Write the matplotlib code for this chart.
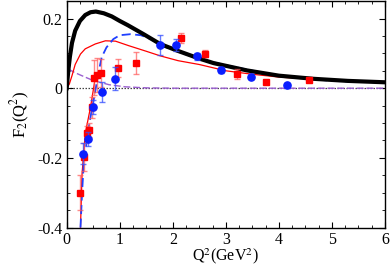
import matplotlib
matplotlib.use("Agg")
import matplotlib.pyplot as plt
from matplotlib.ticker import MultipleLocator

plt.rcParams['font.family'] = ['Liberation Serif', 'DejaVu Serif']
plt.rcParams['mathtext.fontset'] = 'stix'

# data points
blue_x = [0.30, 0.40, 0.50, 0.66, 0.91, 1.75, 2.06, 2.45, 2.91, 3.48, 4.16]
blue_y = [-0.188, -0.147, -0.055, -0.011, 0.027, 0.124, 0.124, 0.091, 0.053, 0.033, 0.008]
blue_err = [0.03, 0.02, 0.02, 0.028, 0.033, 0.028, 0.018, 0.01, 0.008, 0.008, 0.008]

red_x = [0.26, 0.33, 0.38, 0.43, 0.48, 0.52, 0.58, 0.65, 0.96, 1.31, 2.16, 2.61, 3.21, 3.75, 4.56]
red_y = [-0.30, -0.197, -0.129, -0.119, -0.055, 0.030, 0.038, 0.044, 0.058, 0.072, 0.144, 0.099, 0.041, 0.018, 0.024]
red_err = [0.05, 0.04, 0.02, 0.02, 0.03, 0.05, 0.05, 0.04, 0.025, 0.031, 0.015, 0.01, 0.015, 0.005, 0.005]

# model curves
black_x = [0.0, 0.03, 0.06, 0.10, 0.16, 0.25, 0.35, 0.45, 0.55, 0.70, 0.85, 1.0, 1.15, 1.45,
           1.76, 2.08, 2.5, 2.77, 3.4, 4.0, 4.65, 5.3, 6.0]
black_y = [0.0, 0.05, 0.09, 0.13, 0.165, 0.193, 0.21, 0.218, 0.22, 0.215, 0.206, 0.193, 0.181, 0.155,
           0.127, 0.108, 0.085, 0.072, 0.051, 0.036, 0.027, 0.021, 0.017]

red_mx = [0.0, 0.05, 0.10, 0.16, 0.26, 0.35, 0.54, 0.73, 0.92, 1.17, 1.5, 1.76,
          2.1, 2.5, 3.0, 3.5, 4.0, 5.0, 6.0]
red_my = [0.0, 0.012, 0.036, 0.068, 0.098, 0.113, 0.127, 0.136, 0.135, 0.122, 0.106, 0.093,
          0.079, 0.068, 0.050, 0.040, 0.032, 0.022, 0.015]

# fits to the data
red_fx = [0.26, 0.29, 0.35, 0.45, 0.54, 0.62]
red_fy = [-0.40, -0.245, -0.13, -0.054, 0.031, 0.05]

blue_cx = [0.26, 0.29, 0.32, 0.38, 0.43, 0.47, 0.53, 0.60, 0.66, 0.75, 0.88, 1.0, 1.2, 1.4,
           1.6, 1.8, 2.0, 2.5, 3.0, 4.0, 5.0, 6.0]
blue_cy = [-0.40, -0.30, -0.22, -0.15, -0.10, -0.064, -0.016, 0.045, 0.089, 0.117, 0.141, 0.152, 0.155, 0.152,
           0.14, 0.122, 0.110, 0.084, 0.066, 0.035, 0.021, 0.016]

purple_x = [0.03, 0.15, 0.3, 0.5, 0.8, 1.1, 1.5, 2.0, 3.0, 4.0, 5.0, 6.0]
purple_y = [0.055, 0.045, 0.035, 0.022, 0.010, 0.004, 0.001, 0.0, 0.0, 0.0, 0.0, 0.0]

fig = plt.figure(figsize=(3.9, 2.7), dpi=100)
ax = fig.add_axes([0.171, 0.157, 0.816, 0.839])

ax.axhline(0, color='#444444', lw=0.9, ls=(0, (1.2, 1.2)), zorder=1)
ax.plot(purple_x, purple_y, color='#9a5fd0', lw=1.0, ls=(0, (5, 2)), zorder=2)
ax.plot(red_mx, red_my, color='red', lw=0.9, zorder=3)
ax.plot(red_fx, red_fy, color='red', lw=0.9, zorder=3)
ax.plot(blue_cx, blue_cy, color='#1f3fff', lw=1.3, ls=(0, (5, 2.5)), zorder=3)
ax.plot(black_x, black_y, color='black', lw=3.0, zorder=4)

ax.errorbar(red_x, red_y, yerr=red_err, fmt='s', color='red', ms=4.5, mec='red',
            ecolor=(1, 0.35, 0.35, 0.7), elinewidth=1.0, capsize=2.5, capthick=1.0, zorder=5)
ax.errorbar(blue_x, blue_y, yerr=blue_err, fmt='o', color='#0a1eff', ms=5.2, mec='#0a1eff',
            ecolor=(0.2, 0.3, 1.0, 0.75), elinewidth=1.0, capsize=2.5, capthick=1.0, zorder=6)

ax.set_xlim(0, 6)
ax.set_ylim(-0.4, 0.25)
ax.xaxis.set_major_locator(MultipleLocator(1))
ax.xaxis.set_minor_locator(MultipleLocator(0.25))
ax.yaxis.set_minor_locator(MultipleLocator(0.05))
ax.set_yticks([-0.4, -0.2, 0, 0.2])
ax.set_yticklabels(['-0.4', '-0.2', '0', '0.2'])
ax.tick_params(which='both', direction='in', top=True, right=True, labelsize=11.5, pad=3)
ax.tick_params(which='major', length=4)
ax.tick_params(which='minor', length=2.5)
for s in ax.spines.values():
    s.set_linewidth(1.0)

ax.set_xlabel(r'Q$^2$(GeV$^2$)', fontsize=11.5, labelpad=-1)
ax.set_ylabel(r'F$_2$(Q$^2$)', fontsize=12, labelpad=4)

fig.savefig('out.png', dpi=100)
